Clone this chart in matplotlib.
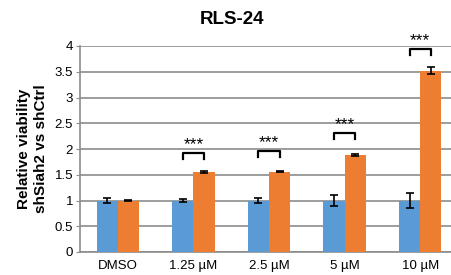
import numpy as np
import matplotlib
matplotlib.use('Agg')
import matplotlib.pyplot as plt

plt.rcParams['font.family'] = ['Liberation Sans', 'DejaVu Sans']

categories = ['DMSO', '1.25 µM', '2.5 µM', '5 µM', '10 µM']
ctrl_vals = [1.0, 1.0, 1.0, 1.0, 1.0]
ctrl_err = [0.04, 0.02, 0.05, 0.10, 0.15]
siah_vals = [1.0, 1.55, 1.56, 1.89, 3.52]
siah_err = [0.01, 0.02, 0.01, 0.02, 0.07]
# significance brackets: (category index, bracket top value)
sig_idx = [1, 2, 3, 4]
sig_top = [1.92, 1.96, 2.31, 3.94]

blue = '#5B9BD5'
orange = '#ED7D31'
grid_c = '#8C8C8C'

fig = plt.figure(figsize=(4.52, 2.75), dpi=100)
ax = fig.add_axes([80 / 452, 1 - 252 / 275, 378 / 452, 206 / 275])

x = np.arange(len(categories))
w = 0.28
ax.bar(x - w / 2, ctrl_vals, w, color=blue, zorder=3)
ax.bar(x + w / 2, siah_vals, w, color=orange, zorder=3)
ax.errorbar(x - w / 2, ctrl_vals, yerr=ctrl_err, fmt='none', ecolor='black',
            elinewidth=1.2, capsize=3, capthick=1.2, zorder=4)
ax.errorbar(x + w / 2, siah_vals, yerr=siah_err, fmt='none', ecolor='black',
            elinewidth=1.2, capsize=3, capthick=1.2, zorder=4)

for i, top in zip(sig_idx, sig_top):
    x0, x1 = i - w / 2, i + w / 2
    ax.plot([x0, x0, x1, x1], [top - 0.11, top, top, top - 0.11],
            color='black', lw=1.6, zorder=5, clip_on=False)
    ax.text(i, top + 0.02, '***', ha='center', va='bottom', fontsize=12.5,
            zorder=5)

ax.set_xlim(-0.5, 4.5)
ax.set_ylim(0, 4)
ax.set_yticks(np.arange(0, 4.01, 0.5))
ax.set_yticklabels(['0', '0.5', '1', '1.5', '2', '2.5', '3', '3.5', '4'])
ax.set_xticks(x)
ax.set_xticklabels(categories)
ax.tick_params(axis='x', length=0, labelsize=9.5, pad=6)
ax.tick_params(axis='y', length=3, labelsize=9.5, color=grid_c, pad=2)
ax.yaxis.grid(True, color=grid_c, lw=1.2, zorder=0)
ax.set_axisbelow(True)
for s in ['top', 'right']:
    ax.spines[s].set_visible(False)
for s in ['left', 'bottom']:
    ax.spines[s].set_color(grid_c)
    ax.spines[s].set_linewidth(1.2)

ax.set_ylabel('Relative viability\nshSiah2 vs shCtrl', fontsize=11,
              fontweight='bold', labelpad=5)
fig.text(232 / 452, 1 - 20 / 275, 'RLS-24', ha='center', va='center',
         fontsize=13.5, fontweight='bold')

fig.savefig('out.png', dpi=100)
